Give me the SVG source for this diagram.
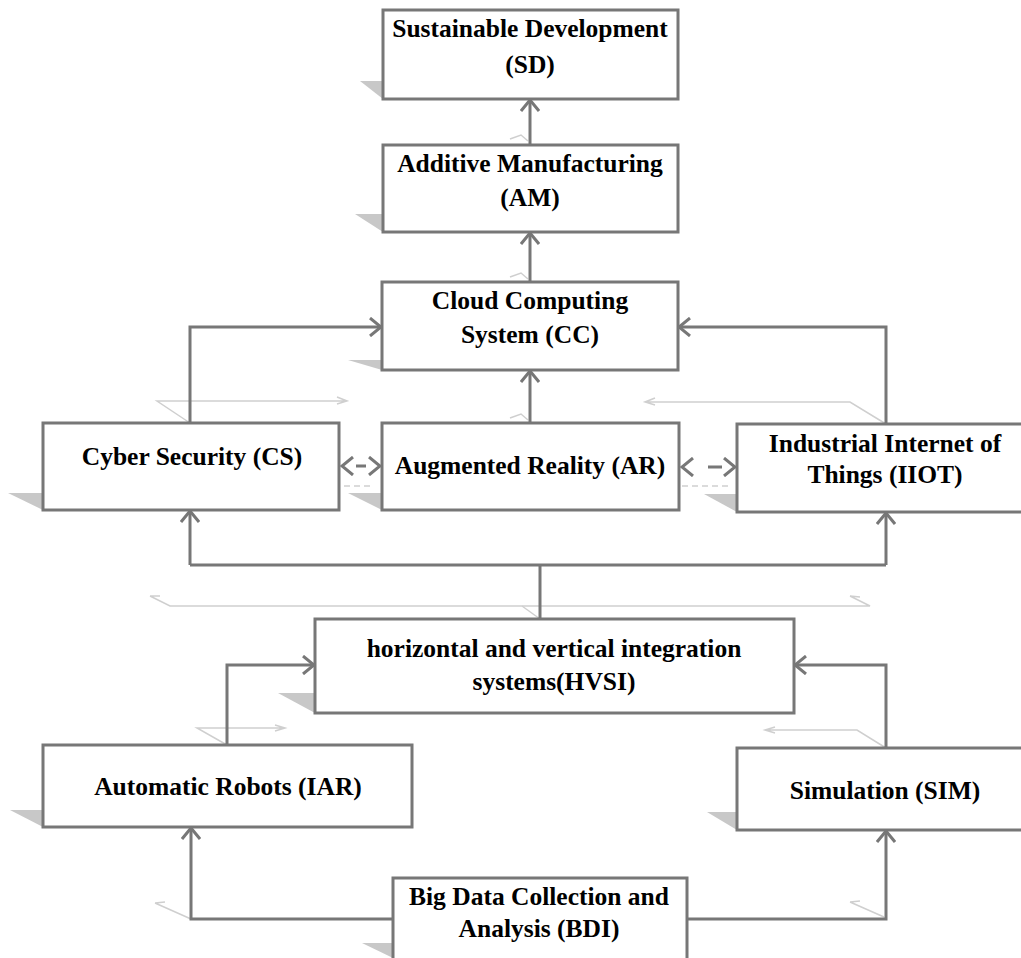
<svg xmlns="http://www.w3.org/2000/svg" width="1021" height="958" viewBox="0 0 1021 958">
<style>
.box{fill:#fff;stroke:#777;stroke-width:3}
.sh{fill:#c8c8c8}
.t{font-family:"Liberation Serif","Times New Roman",serif;font-weight:bold;font-size:25.5px;fill:#000;text-anchor:middle}
.c{fill:none;stroke:#777;stroke-width:3}
.d{fill:none;stroke:#777;stroke-width:3}
.f{fill:none;stroke:#cfcfcf;stroke-width:1.5}
</style>
<defs>
<marker id="ah" viewBox="0 0 14 20" refX="12" refY="10" markerWidth="14" markerHeight="20" markerUnits="userSpaceOnUse" orient="auto-start-reverse">
<path d="M1,1 L12,10 L1,19" fill="none" stroke="#777" stroke-width="3"/>
</marker>
</defs>
<rect width="1021" height="958" fill="#fff"/>
<g id="faint-shadows">
<path class="f" d="M510,139 L521,135 L528,141"/>
<path class="f" d="M510,277 L521,273 L528,279"/>
<path class="f" d="M510,418 L521,414 L528,420"/>
<path class="f" d="M190,423 L157,401 H347 M337,397 L347,401 L337,404"/>
<path class="f" d="M886,424 L850,402 H645 M655,398 L645,402 L655,405"/>
<path class="f" d="M334,486 H374" stroke-dasharray="6,4"/>
<path class="f" d="M682,486 H730" stroke-dasharray="6,4"/>
<path class="f" d="M150,596 L170,606 H870 L850,596 M150,596 L160,596 M850,596 L860,597"/>
<path class="f" d="M522,606 L540,619"/>
<path class="f" d="M227,745 L197,728 H285 M275,725 L285,728 L275,731"/>
<path class="f" d="M886,748 L857,730 H765 M775,727 L765,730 L775,733"/>
<path class="f" d="M191,919 L155,903 M155,903 L165,902"/>
<path class="f" d="M884,917 L850,902 M850,902 L860,901"/>
</g>
<g id="connectors">
<path class="c" d="M530,145 V100" marker-end="url(#ah)"/>
<path class="c" d="M530,282 V233" marker-end="url(#ah)"/>
<path class="c" d="M530,423 V371" marker-end="url(#ah)"/>
<path class="c" d="M190,423 V327 H381" marker-end="url(#ah)"/>
<path class="c" d="M886,424 V327 H679" marker-end="url(#ah)"/>
<path class="d" d="M342,466 H380" stroke-dasharray="0,14,10,14" marker-start="url(#ah)" marker-end="url(#ah)"/>
<path class="d" d="M682,467 H735" stroke-dasharray="0,26,14,40" marker-start="url(#ah)" marker-end="url(#ah)"/>
<path class="c" d="M540,619 V565"/>
<path class="c" d="M190,565 H886"/>
<path class="c" d="M190,565 V511" marker-end="url(#ah)"/>
<path class="c" d="M886,565 V513" marker-end="url(#ah)"/>
<path class="c" d="M227,745 V665 H314" marker-end="url(#ah)"/>
<path class="c" d="M886,748 V665 H795" marker-end="url(#ah)"/>
<path class="c" d="M393,919 H191 V828" marker-end="url(#ah)"/>
<path class="c" d="M687,919 H886 V831" marker-end="url(#ah)"/>
</g>
<g id="SD">
<path class="sh" d="M360,81 H383 V99 Z"/>
<rect class="box" x="383" y="10" width="295" height="89"/>
<text class="t" x="530" y="37">Sustainable Development</text>
<text class="t" x="530" y="73">(SD)</text>
</g>
<g id="AM">
<path class="sh" d="M355,214 H383 V232 Z"/>
<rect class="box" x="383" y="145" width="295" height="87"/>
<text class="t" x="530" y="172">Additive Manufacturing</text>
<text class="t" x="530" y="206">(AM)</text>
</g>
<g id="CC">
<path class="sh" d="M348,360 H382 V370 Z"/>
<rect class="box" x="382" y="282" width="296" height="88"/>
<text class="t" x="530" y="309">Cloud Computing</text>
<text class="t" x="530" y="343">System (CC)</text>
</g>
<g id="CS">
<path class="sh" d="M8,493 H43 V510 Z"/>
<rect class="box" x="43" y="423" width="296" height="87"/>
<text class="t" x="192" y="465">Cyber Security (CS)</text>
</g>
<g id="AR">
<path class="sh" d="M348,493 H382 V510 Z"/>
<rect class="box" x="382" y="423" width="297" height="87"/>
<text class="t" x="530" y="474">Augmented Reality (AR)</text>
</g>
<g id="IIOT">
<path class="sh" d="M704,494 H737 V512 Z"/>
<rect class="box" x="737" y="424" width="300" height="88"/>
<text class="t" x="885" y="452">Industrial Internet of</text>
<text class="t" x="885" y="483">Things (IIOT)</text>
</g>
<g id="HVSI">
<path class="sh" d="M278,693 H315 V713 Z"/>
<rect class="box" x="315" y="619" width="479" height="94"/>
<text class="t" x="554" y="657">horizontal and vertical integration</text>
<text class="t" x="554" y="690">systems(HVSI)</text>
</g>
<g id="IAR">
<path class="sh" d="M10,810 H43 V827 Z"/>
<rect class="box" x="43" y="745" width="369" height="82"/>
<text class="t" x="228" y="795">Automatic Robots (IAR)</text>
</g>
<g id="SIM">
<path class="sh" d="M707,812 H737 V830 Z"/>
<rect class="box" x="737" y="748" width="300" height="82"/>
<text class="t" x="885" y="799">Simulation (SIM)</text>
</g>
<g id="BDI">
<path class="sh" d="M362,943 H393 V958 Z"/>
<rect class="box" x="393" y="878" width="294" height="100"/>
<text class="t" x="539" y="905">Big Data Collection and</text>
<text class="t" x="539" y="937">Analysis (BDI)</text>
</g>
</svg>
